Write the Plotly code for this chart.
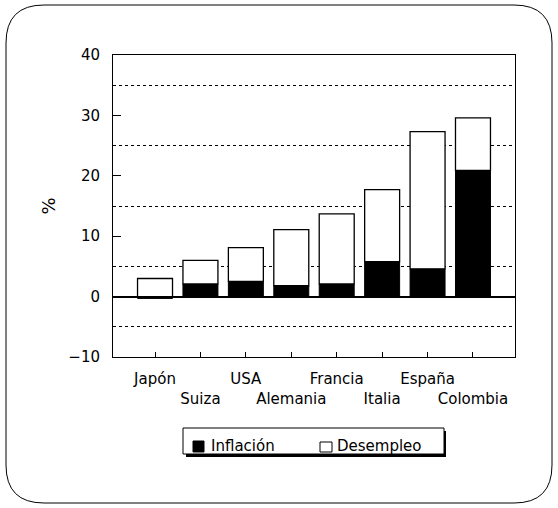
import plotly.graph_objects as go

countries = ["Japón", "Suiza", "USA", "Alemania", "Francia", "Italia", "España", "Colombia"]
inflacion = [-0.3, 2.1, 2.5, 1.8, 2.1, 5.8, 4.6, 20.9]
desempleo = [3.0, 3.9, 5.6, 9.3, 11.6, 11.9, 22.7, 8.7]
series_names = ["Inflación", "Desempleo"]
y_ticks = [-10, 0, 10, 20, 30, 40]
grid_vals = [-5, 5, 15, 25, 35]

W, H = 558, 508
L, R, T, B = 113, 43, 55, 151
PW, PH = W - L - R, H - T - B
FONT = "DejaVu Sans, Liberation Sans, Arial"

def px(x):
    return (x - L) / PW

def py(y):
    return (H - B - y) / PH

xs = list(range(len(countries)))
ticktext = [c if i % 2 == 0 else "<br>" + c for i, c in enumerate(countries)]

fig = go.Figure()
fig.add_trace(go.Bar(x=xs, y=inflacion, name=series_names[0], showlegend=False,
                     marker=dict(color="black", line=dict(color="black", width=1)), width=0.77))
fig.add_trace(go.Bar(x=xs, y=desempleo, name=series_names[1], showlegend=False,
                     marker=dict(color="white", line=dict(color="black", width=1.3)), width=0.77))

# rounded outer border
x0, x1, y0, y1, r = 6, 552, 5, 503, 38
path = (f"M {px(x0+r)},{py(y0)} L {px(x1-r)},{py(y0)} Q {px(x1)},{py(y0)} {px(x1)},{py(y0+r)} "
        f"L {px(x1)},{py(y1-r)} Q {px(x1)},{py(y1)} {px(x1-r)},{py(y1)} "
        f"L {px(x0+r)},{py(y1)} Q {px(x0)},{py(y1)} {px(x0)},{py(y1-r)} "
        f"L {px(x0)},{py(y0+r)} Q {px(x0)},{py(y0)} {px(x0+r)},{py(y0)} Z")
shapes = [dict(type="path", xref="paper", yref="paper", path=path, line=dict(color="black", width=1))]
# legend box with shadow
shapes.append(dict(type="rect", xref="paper", yref="paper", x0=px(186), x1=px(446), y0=py(457), y1=py(431),
                   fillcolor="black", line=dict(width=0)))
shapes.append(dict(type="rect", xref="paper", yref="paper", x0=px(183), x1=px(444), y0=py(454), y1=py(428),
                   fillcolor="white", line=dict(color="black", width=1)))
# legend keys
shapes.append(dict(type="rect", xref="paper", yref="paper", x0=px(193), x1=px(204), y0=py(452), y1=py(441),
                   fillcolor="black", line=dict(color="black", width=1)))
shapes.append(dict(type="rect", xref="paper", yref="paper", x0=px(320), x1=px(332), y0=py(452), y1=py(442),
                   fillcolor="white", line=dict(color="black", width=1)))
annotations = [
    dict(text=series_names[0], xref="paper", yref="paper", x=px(209), y=py(446), xanchor="left", yanchor="middle",
         showarrow=False, font=dict(family=FONT, size=15, color="black")),
    dict(text=series_names[1], xref="paper", yref="paper", x=px(335), y=py(446), xanchor="left", yanchor="middle",
         showarrow=False, font=dict(family=FONT, size=15, color="black")),
]

fig.update_layout(
    width=W, height=H,
    margin=dict(l=L, r=R, t=T, b=B),
    paper_bgcolor="white", plot_bgcolor="white",
    barmode="relative",
    font=dict(family=FONT, size=15, color="black"),
    showlegend=False,
    shapes=shapes,
    annotations=annotations,
    xaxis=dict(range=[-0.925, 7.925], tickvals=xs, ticktext=ticktext, tickangle=0, ticks="inside", ticklen=5,
               tickcolor="black", showline=True, linecolor="black", mirror=True, showgrid=False,
               zeroline=False, ticklabelstandoff=8),
    yaxis=dict(range=[-10, 40], tickvals=y_ticks, ticks="inside", ticklen=8, tickcolor="black",
               showline=True, linecolor="black", mirror=True, showgrid=False,
               zeroline=True, zerolinecolor="black", zerolinewidth=1.8,
               minor=dict(tickvals=grid_vals, showgrid=True, gridcolor="black", griddash="dot", gridwidth=1, ticklen=0),
               title=dict(text="%", standoff=8), ticklabelstandoff=9),
)

fig.write_html("out.html", config={"displayModeBar": False},
               post_script="document.body.style.margin='0';")
